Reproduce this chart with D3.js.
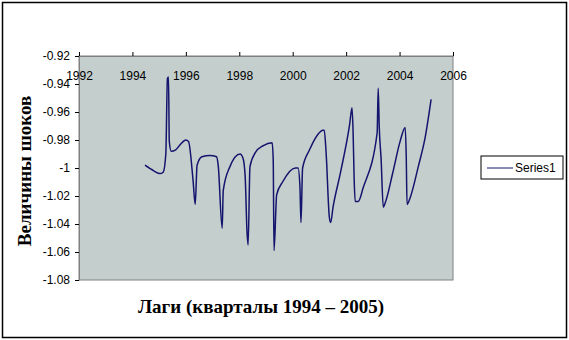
<!DOCTYPE html>
<html>
<head>
<meta charset="utf-8">
<script src="https://cdn.jsdelivr.net/npm/d3@7"></script>
<style>
  body { margin: 0; background: #fff; }
  .axis text { font-family: "Liberation Sans", Arial, sans-serif; font-size: 12px; fill: #000; }
  .axis line { stroke: #000; }
  .title { font-family: "Liberation Serif", "Times New Roman", serif; font-weight: bold; font-size: 19px; fill: #000; }
</style>
</head>
<body>
<div id="chart"></div>
<script>
////////////////////////////////////////////////////////////
//////////////////////// Data //////////////////////////////
////////////////////////////////////////////////////////////

var years = [
    1994.47, 1994.8, 1995.03, 1995.15, 1995.25, 1995.31, 1995.35, 1995.38, 1995.45, 1995.62,
    1995.8, 1996.0, 1996.1, 1996.27, 1996.35, 1996.42, 1996.6, 1996.9, 1997.15, 1997.21,
    1997.36, 1997.4, 1997.65, 1998.03, 1998.14, 1998.22, 1998.29, 1998.33, 1998.4, 1998.6,
    1998.9, 1999.23, 1999.27, 1999.30, 1999.4, 1999.62, 2000.1, 2000.2, 2000.27, 2000.31,
    2000.37, 2000.63, 2000.94, 2001.13, 2001.18, 2001.25, 2001.37, 2001.42, 2001.51, 2001.78,
    2002.13, 2002.22, 2002.26, 2002.3, 2002.34, 2002.45, 2002.64, 2003.16, 2003.2, 2003.24,
    2003.31, 2003.39, 2003.46, 2003.75, 2004.02, 2004.21, 2004.25, 2004.28, 2004.4, 2004.7,
    2004.96, 2005.18
];
var shocks = [
    -0.998, -1.002, -1.004, -1.003, -0.990, -0.936, -0.935, -0.981, -0.988, -0.987,
    -0.983, -0.980, -0.981, -1.009, -1.026, -0.998, -0.992, -0.991, -0.992, -0.998,
    -1.043, -1.016, -0.999, -0.990, -0.993, -1.006, -1.046, -1.055, -0.999, -0.989,
    -0.984, -0.982, -0.994, -1.059, -1.019, -1.010, -1.000, -1.000, -1.013, -1.039,
    -1.000, -0.987, -0.976, -0.973, -0.973, -0.989, -1.035, -1.039, -1.028, -1.004,
    -0.969, -0.957, -0.974, -1.008, -1.024, -1.024, -1.014, -0.975, -0.943, -0.971,
    -0.994, -1.028, -1.025, -1.003, -0.981, -0.971, -0.992, -1.026, -1.021, -0.999,
    -0.978, -0.951
];

var xTicks = [1992, 1994, 1996, 1998, 2000, 2002, 2004, 2006];
var yTicks = [-0.92, -0.94, -0.96, -0.98, -1, -1.02, -1.04, -1.06, -1.08];
var seriesName = "Series1";

////////////////////////////////////////////////////////////
//////////////////// Set up svg ////////////////////////////
////////////////////////////////////////////////////////////

var width = 569, height = 340;
var margin = { top: 56, right: 116, bottom: 60, left: 79 };
var plotW = width - margin.left - margin.right,
    plotH = height - margin.top - margin.bottom;

var svg = d3.select("#chart").append("svg")
    .attr("width", width)
    .attr("height", height);

//Outer chart frame
svg.append("rect")
    .attr("x", 2.5).attr("y", 2.5)
    .attr("width", 564).attr("height", 335)
    .style("fill", "#fff")
    .style("stroke", "#000")
    .style("stroke-width", 1.5);

var g = svg.append("g")
    .attr("transform", "translate(" + margin.left + "," + margin.top + ")");

var x = d3.scaleLinear().domain([1992, 2006]).range([0, plotW]);
var y = d3.scaleLinear().domain([-0.92, -1.08]).range([0, plotH]);

//Plot area
g.append("rect")
    .attr("width", plotW)
    .attr("height", plotH)
    .style("fill", "#c4cfcd")
    .style("stroke", "#808080")
    .style("stroke-width", 1);

//Y axis
g.append("g")
    .attr("class", "axis")
    .call(d3.axisLeft(y).tickValues(yTicks).tickSize(4).tickSizeOuter(0).tickPadding(5)
        .tickFormat(function(d) { return String(d); }))
    .select(".domain").style("stroke", "#808080");

//X axis sits at the top (y = -0.92), labels hang below it
g.append("g")
    .attr("class", "axis")
    .call(d3.axisBottom(x).tickValues(xTicks).tickSize(-4).tickSizeOuter(0).tickPadding(15)
        .tickFormat(d3.format("d")))
    .select(".domain").style("stroke", "#808080");

//The line
var line = d3.line()
    .x(function(d, i) { return x(years[i]); })
    .y(function(d) { return y(d); })
    .curve(d3.curveMonotoneX);

g.append("path")
    .datum(shocks)
    .attr("d", line)
    .style("fill", "none")
    .style("stroke", "#14146e")
    .style("stroke-width", 1.5);

//Axis titles
svg.append("text")
    .attr("class", "title")
    .attr("transform", "translate(31," + 171 + ") rotate(-90)")
    .attr("text-anchor", "middle")
    .text("Величины шоков");

svg.append("text")
    .attr("class", "title")
    .attr("x", 261)
    .attr("y", 313)
    .attr("text-anchor", "middle")
    .text("Лаги (кварталы 1994 – 2005)");

//Legend
var legend = svg.append("g").attr("transform", "translate(481,156)");
legend.append("rect")
    .attr("width", 82).attr("height", 23)
    .style("fill", "#fff").style("stroke", "#000");
legend.append("line")
    .attr("x1", 6).attr("x2", 32).attr("y1", 12).attr("y2", 12)
    .style("stroke", "#14146e").style("stroke-width", 1);
legend.append("text")
    .attr("x", 34).attr("y", 16)
    .style("font-family", "Liberation Sans, Arial, sans-serif")
    .style("font-size", "12px")
    .text(seriesName);
</script>
</body>
</html>
